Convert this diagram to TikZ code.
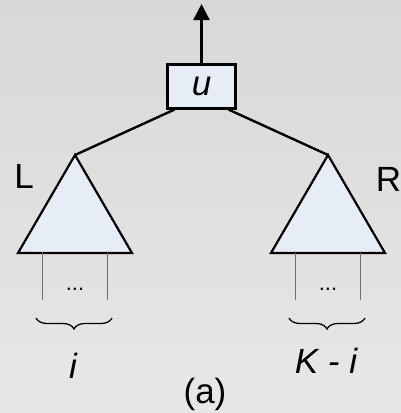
\documentclass[tikz,border=0pt]{standalone}
\usepackage{fontspec}
\setmainfont{Liberation Sans}
\usetikzlibrary{decorations.pathreplacing,arrows.meta}

\definecolor{bgtop}{HTML}{D8D8D8}
\definecolor{bgbottom}{HTML}{E7E7E7}
\definecolor{nodefill}{HTML}{E6EDF7}
\definecolor{leafline}{HTML}{6E6E6E}

\begin{document}
\begin{tikzpicture}[
    x=1pt, y=-1pt,
    edge/.style={line width=2.4pt, black},
    tri/.style={fill=nodefill, draw=black, line width=2.2pt, line join=miter},
    leaf/.style={line width=0.9pt, leafline},
    brc/.style={decorate, decoration={brace, amplitude=11pt, mirror}, line width=1.3pt},
    lbl/.style={font=\fontsize{35}{40}\selectfont, inner sep=0pt},
    dots/.style={font=\fontsize{22}{24}\selectfont, inner sep=0pt, anchor=base},
]

% #1 name, #2 apex x, #3 count text, #4 count baseline
\newcommand{\subtree}[4]{
    \coordinate (#1top) at (#2, 155);
    \fill[tri] (#1top) -- ++(57, 98) -- ++(-114, 0) -- cycle;
    \draw[leaf] (#2-33, 253) -- (#2-33, 300);
    \draw[leaf] (#2+32, 253) -- (#2+32, 300);
    \node[dots] (#1dots) at (#2, 290) {...};
    \draw[brc] (#2-39, 318) -- (#2+37, 318);
    \node[lbl, anchor=base] (#1count) at (#2-2, #4) {\itshape #3};
}

% Background
\shade[top color=bgtop, bottom color=bgbottom] (0,0) rectangle (401,413);
\useasboundingbox (0,0) rectangle (401,413);

% Root
\node[draw=black, line width=2.2pt, fill=nodefill, minimum width=68pt,
    minimum height=44pt, inner sep=0pt, lbl] (u) at (201.5, 86.5) {\itshape u};
\coordinate (out) at (201.5, 4);
\draw[edge, -{Triangle[length=16pt, width=16pt]}] (u.north) -- (out);

% Subtrees
\subtree{L}{75}{i}{378}
\subtree{R}{328}{K - i}{373}

\draw[edge] ([xshift=8pt]u.south west) -- (Ltop);
\draw[edge] ([xshift=-8pt]u.south east) -- (Rtop);

\node[lbl, anchor=base] (Lname) at (24, 188) {L};
\node[lbl, anchor=base] (Rname) at (388.5, 191) {R};

% Caption
\node[lbl, anchor=base] (cap) at (205, 403) {(a)};

\end{tikzpicture}
\end{document}
